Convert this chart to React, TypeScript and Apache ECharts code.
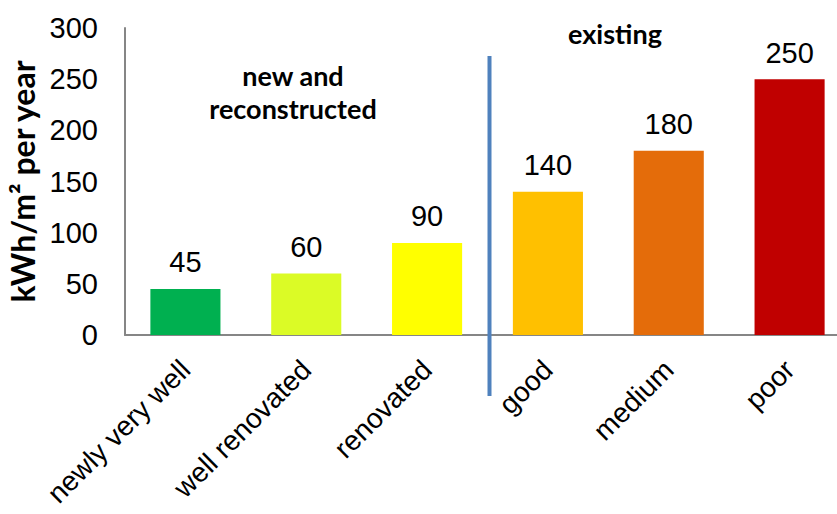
import React, { useEffect, useRef } from "react";
import * as echarts from "echarts";

const categories = ["newly very well", "well renovated", "renovated", "good", "medium", "poor"];
const values = [45, 60, 90, 140, 180, 250];
const barColors = ["#00B050", "#DBFB26", "#FFFF00", "#FFC000", "#E46C0A", "#C00000"];
const yTicks = { min: 0, max: 300, interval: 50 };
const yTitle = "kWh/m² per year";
const groupLabels = ["new and\nreconstructed", "existing"];

const TICK_FONT = "Liberation Sans";
const BOLD_FONT = "Lato";
const GRID = { left: 125, top: 28, width: 725, height: 307 };

export default function App() {
  const ref = useRef<HTMLDivElement>(null);
  useEffect(() => {
    if (!ref.current) return;
    const chart = echarts.init(ref.current, undefined, { renderer: "svg" });
    chart.setOption({
      animation: false,
      grid: { ...GRID, containLabel: false, outerBoundsMode: "none" },
      xAxis: {
        type: "category",
        data: categories,
        axisLine: { show: true, lineStyle: { color: "#868686", width: 2 } },
        axisTick: { show: false },
        axisLabel: {
          rotate: 45,
          interval: 0,
          margin: 30,
          color: "#000",
          fontFamily: TICK_FONT,
          fontSize: 28,
        },
      },
      yAxis: {
        type: "value",
        min: yTicks.min,
        max: yTicks.max,
        interval: yTicks.interval,
        name: yTitle,
        nameLocation: "middle",
        nameRotate: 90,
        nameGap: 86,
        nameTextStyle: { color: "#000", fontFamily: BOLD_FONT, fontWeight: "bold", fontSize: 32 },
        axisLine: { show: true, lineStyle: { color: "#868686", width: 2 } },
        axisTick: { show: false },
        splitLine: { show: false },
        axisLabel: { margin: 27, color: "#000", fontFamily: TICK_FONT, fontSize: 29 },
      },
      series: [
        {
          type: "bar",
          data: values.map((v, i) => ({ value: v, itemStyle: { color: barColors[i] } })),
          barCategoryGap: "42%",
          label: {
            show: true,
            position: "top",
            distance: 12,
            color: "#000",
            fontFamily: TICK_FONT,
            fontSize: 29,
          },
        },
      ],
    });
    let sepX = NaN;
    try {
      const p2 = chart.convertToPixel({ gridIndex: 0 }, [2, 0]) as number[];
      const p3 = chart.convertToPixel({ gridIndex: 0 }, [3, 0]) as number[];
      sepX = (p2[0] + p3[0]) / 2 + 2;
    } catch (e) {
      sepX = NaN;
    }
    if (!isFinite(sepX)) sepX = GRID.left + GRID.width / 2 + 2;
    chart.setOption({
      graphic: [
        {
          type: "line",
          shape: { x1: sepX, y1: 56, x2: sepX, y2: 396 },
          style: { stroke: "#4F81BD", lineWidth: 4 },
          z: 100,
        },
        {
          type: "text",
          x: 293,
          y: 92,
          style: {
            text: groupLabels[0],
            fontFamily: BOLD_FONT,
            fontWeight: "bold",
            fontSize: 27,
            lineHeight: 33,
            fill: "#000",
            align: "center",
            verticalAlign: "middle",
          },
        },
        {
          type: "text",
          x: 615,
          y: 33,
          style: {
            text: groupLabels[1],
            fontFamily: BOLD_FONT,
            fontWeight: "bold",
            fontSize: 27,
            fill: "#000",
            align: "center",
            verticalAlign: "middle",
          },
        },
      ],
    });
    return () => chart.dispose();
  }, []);
  return (
    <div
      ref={ref}
      style={{ position: "fixed", left: 0, top: 0, width: 837, height: 514, background: "#fff" }}
    />
  );
}
